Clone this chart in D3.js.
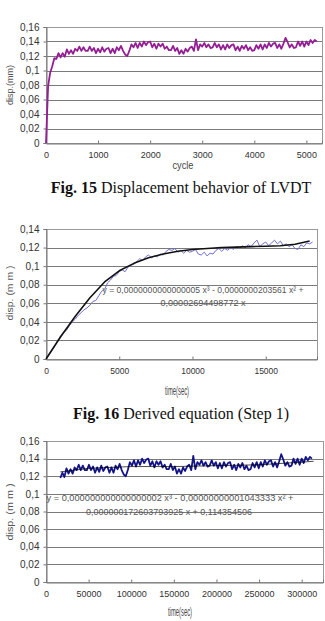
<!DOCTYPE html>
<html>
<head>
<meta charset="utf-8">
<script src="https://cdn.jsdelivr.net/npm/d3@7"></script>
<style>
	body { margin: 0; background: #fff; }
	svg { display: block; }
</style>
</head>
<body>
<svg id="page" width="325" height="621"></svg>
<script>
(function() {
	'use strict';

	// Fig. 15 - LVDT displacement, one value every 40 cycles
	var cycleStep = 40;
	var disp15 = [
		0, 0.078, 0.097, 0.106, 0.117, 0.116, 0.124, 0.118, 0.124, 0.119,
		0.129, 0.123, 0.128, 0.123, 0.130, 0.127, 0.133, 0.127, 0.132, 0.127,
		0.127, 0.133, 0.127, 0.131, 0.124, 0.130, 0.125, 0.132, 0.126, 0.130,
		0.131, 0.124, 0.130, 0.124, 0.132, 0.128, 0.134, 0.127, 0.122, 0.120,
		0.127, 0.136, 0.132, 0.138, 0.131, 0.138, 0.133, 0.140, 0.135, 0.139,
		0.140, 0.132, 0.137, 0.130, 0.137, 0.133, 0.137, 0.130, 0.133, 0.128,
		0.128, 0.134, 0.127, 0.131, 0.123, 0.128, 0.123, 0.130, 0.126, 0.131,
		0.133, 0.127, 0.143, 0.128, 0.136, 0.133, 0.138, 0.132, 0.136, 0.131,
		0.132, 0.138, 0.132, 0.136, 0.129, 0.135, 0.129, 0.136, 0.131, 0.135,
		0.136, 0.128, 0.133, 0.127, 0.134, 0.130, 0.135, 0.128, 0.132, 0.127,
		0.128, 0.135, 0.130, 0.136, 0.129, 0.136, 0.131, 0.138, 0.133, 0.137,
		0.138, 0.131, 0.136, 0.130, 0.137, 0.145, 0.139, 0.132, 0.136, 0.131,
		0.132, 0.140, 0.134, 0.140, 0.133, 0.140, 0.135, 0.142, 0.138, 0.142,
		0.140
	];
	// same record against time (60 sec per cycle), first cycles left out
	var secPerCycle = 60;
	var firstCycle3 = 280;

	// Fig. 16 - step 1, one value every 200 sec
	var timeStep16 = 200;
	var disp16 = [
		0, 0.004, 0.009, 0.014, 0.020, 0.025, 0.029, 0.031, 0.036, 0.040,
		0.043, 0.047, 0.050, 0.053, 0.055, 0.058, 0.062, 0.063, 0.068, 0.073,
		0.075, 0.082, 0.085, 0.089, 0.090, 0.094, 0.096, 0.094, 0.099, 0.101,
		0.102, 0.105, 0.108, 0.106, 0.110, 0.112, 0.109, 0.111, 0.110, 0.113,
		0.112, 0.116, 0.118, 0.117, 0.119, 0.115, 0.117, 0.114, 0.117, 0.115,
		0.116, 0.118, 0.113, 0.112, 0.115, 0.111, 0.114, 0.113, 0.117, 0.119,
		0.116, 0.119, 0.117, 0.120, 0.118, 0.121, 0.119, 0.122, 0.120, 0.123,
		0.121, 0.125, 0.128, 0.121, 0.124, 0.126, 0.122, 0.125, 0.128, 0.124,
		0.127, 0.122, 0.124, 0.121, 0.123, 0.119, 0.118, 0.123, 0.121, 0.125,
		0.124, 0.126
	];
	var fitTime16 = [0, 1000, 2000, 3000, 4000, 5000, 6000, 7000, 8000, 9000,
		10000, 11000, 12000, 13000, 14000, 15000, 16000, 17000, 18000];
	var fitDisp16 = [0, 0.024, 0.046, 0.066, 0.083, 0.095, 0.103, 0.109, 0.113, 0.116,
		0.118, 0.119, 0.120, 0.1205, 0.121, 0.1215, 0.122, 0.1235, 0.127];

	var fitTime3 = [16800, 50000, 100000, 150000, 200000, 250000, 300000, 314000];
	var fitDisp3 = [0.125, 0.129, 0.131, 0.131, 0.132, 0.133, 0.136, 0.137];

	var yTicks16 = [0, 0.02, 0.04, 0.06, 0.08, 0.1, 0.12, 0.14, 0.16];
	var yTicks14 = [0, 0.02, 0.04, 0.06, 0.08, 0.1, 0.12, 0.14];
	var xTicksCycle = [0, 1000, 2000, 3000, 4000, 5000];
	var xTicksTime16 = [0, 5000, 10000, 15000];
	var xTicksTime3 = [0, 50000, 100000, 150000, 200000, 250000, 300000];

	var svg = d3.select('#page');
	svg.append('rect').attr('width', 325).attr('height', 621).attr('fill', '#fff');

	function fmt(d) {
		return String(d).replace('.', ',');
	}

	function panel(cfg) {
		var x = d3.scaleLinear().domain(cfg.xDomain).range([cfg.left, cfg.right]);
		var y = d3.scaleLinear().domain(cfg.yDomain).range([cfg.bottom, cfg.top]);
		var g = svg.append('g');

		// grid
		g.selectAll('line.grid').data(cfg.yTicks.slice(1, -1)).enter().append('line')
			.attr('x1', cfg.left).attr('x2', cfg.right)
			.attr('y1', function(d) { return Math.round(y(d)) + 0.5; })
			.attr('y2', function(d) { return Math.round(y(d)) + 0.5; })
			.attr('stroke', '#7a7a7a').attr('stroke-width', 1);

		g.append('rect')
			.attr('x', cfg.left + 0.5).attr('y', Math.round(cfg.top) + 0.5)
			.attr('width', cfg.right - cfg.left).attr('height', Math.round(cfg.bottom) - Math.round(cfg.top))
			.attr('fill', 'none').attr('stroke', '#999');

		// axes
		var yAxis = d3.axisLeft(y).tickValues(cfg.yTicks).tickSize(3).tickPadding(4).tickFormat(fmt);
		var ya = g.append('g').attr('transform', 'translate(' + (cfg.left + 0.5) + ',0)').call(yAxis);
		var xAxis = d3.axisBottom(x).tickValues(cfg.xTicks).tickSize(-3).tickPadding(8).tickFormat(String);
		var xa = g.append('g').attr('transform', 'translate(0,' + (Math.round(cfg.bottom) + 0.5) + ')').call(xAxis);
		[ya, xa].forEach(function(a) {
			a.select('.domain').attr('stroke', '#777');
			a.selectAll('.tick line').attr('stroke', '#777');
			a.selectAll('text').attr('fill', '#333').attr('font-family', 'Liberation Sans, Arial, sans-serif');
		});
		ya.selectAll('text').attr('font-size', 10);
		xa.selectAll('text').attr('font-size', cfg.xFont);

		// series
		cfg.series.forEach(function(s) {
			g.append('path')
				.datum(s.data)
				.attr('fill', 'none')
				.attr('stroke', s.color)
				.attr('stroke-width', s.width)
				.attr('stroke-linejoin', 'round')
				.attr('d', d3.line().x(function(d) { return x(d[0]); }).y(function(d) { return y(d[1]); }));
		});

		// titles
		g.append('text')
			.attr('x', cfg.xTitle[0]).attr('y', cfg.xTitle[1])
			.attr('text-anchor', 'middle')
			.attr('font-family', 'Liberation Sans, Arial, sans-serif')
			.attr('font-size', cfg.xTitle[4]).attr('fill', '#444')
			.attr('textLength', cfg.xTitle[3]).attr('lengthAdjust', 'spacingAndGlyphs')
			.text(cfg.xTitle[2]);
		g.append('text')
			.attr('transform', 'translate(' + cfg.yTitle[0] + ',' + cfg.yTitle[1] + ') rotate(-90)')
			.attr('text-anchor', 'middle')
			.attr('font-family', 'Liberation Sans, Arial, sans-serif')
			.attr('font-size', 9).attr('fill', '#555')
			.attr('textLength', cfg.yTitle[3]).attr('lengthAdjust', 'spacingAndGlyphs')
			.text(cfg.yTitle[2]);

		(cfg.notes || []).forEach(function(n) {
			g.append('text')
				.attr('x', n.cx).attr('y', n.y)
				.attr('text-anchor', 'middle')
				.attr('font-family', 'Liberation Sans, Arial, sans-serif')
				.attr('font-size', 9).attr('fill', '#555')
				.attr('textLength', n.w).attr('lengthAdjust', 'spacingAndGlyphs')
				.text(n.t);
		});
	}

	function caption(num, txt, cx, yb) {
		var t = svg.append('text')
			.attr('x', cx).attr('y', yb)
			.attr('text-anchor', 'middle')
			.attr('font-family', 'Liberation Serif, Times New Roman, serif')
			.attr('font-size', 16).attr('fill', '#111');
		t.append('tspan').attr('font-weight', 'bold').text(num);
		t.append('tspan').text(' ' + txt);
	}

	var s15 = disp15.map(function(v, i) { return [i * cycleStep, v]; });
	var s3 = disp15.map(function(v, i) { return [i * cycleStep * secPerCycle, v]; })
		.filter(function(d, i) { return i * cycleStep >= firstCycle3; });
	var s16 = disp16.map(function(v, i) { return [i * timeStep16, v]; });
	var f16 = fitTime16.map(function(t, i) { return [t, fitDisp16[i]]; });
	var f3 = fitTime3.map(function(t, i) { return [t, fitDisp3[i]]; });

	panel({
		left: 46, right: 322, top: 27, bottom: 143,
		xDomain: [0, 5300], yDomain: [0, 0.16],
		xTicks: xTicksCycle, yTicks: yTicks16, xFont: 9,
		series: [{ data: s15, color: '#951e95', width: 1.8 }],
		xTitle: [183, 169, 'cycle', 21, 10],
		yTitle: [13, 85, 'disp.(mm)', 40]
	});
	caption('Fig. 15', 'Displacement behavior of LVDT', 181, 193);

	panel({
		left: 46, right: 317, top: 229, bottom: 359,
		xDomain: [0, 18500], yDomain: [0, 0.14],
		xTicks: xTicksTime16, yTicks: yTicks14, xFont: 8.5,
		series: [
			{ data: s16, color: '#6f6fd0', width: 1 },
			{ data: f16, color: '#111', width: 1.6 }
		],
		xTitle: [177, 395, 'time(sec)', 24, 12],
		yTitle: [13, 293, 'disp. (m m )', 55],
		notes: [
			{ cx: 203, y: 293, w: 201, t: 'y = 0,0000000000000005 x\u00b3 - 0,0000000203561 x\u00b2 +' },
			{ cx: 203, y: 306, w: 85, t: '0,00002694498772 x' }
		]
	});
	caption('Fig. 16', 'Derived equation (Step 1)', 181, 419);

	panel({
		left: 46, right: 323, top: 441, bottom: 582,
		xDomain: [0, 325000], yDomain: [0, 0.16],
		xTicks: xTicksTime3, yTicks: yTicks16, xFont: 9,
		series: [
			{ data: s3, color: '#14148a', width: 1.8 },
			{ data: f3, color: '#000', width: 0.7 }
		],
		xTitle: [180, 616, 'time(sec)', 24, 12],
		yTitle: [13, 512, 'disp. (m m )', 57],
		notes: [
			{ cx: 170, y: 501, w: 247, t: 'y = 0,000000000000000002 x\u00b3 - 0,00000000001043333 x\u00b2 +' },
			{ cx: 169, y: 515, w: 166, t: '0,000000172603793925 x + 0,114354506' }
		]
	});
})();
</script>
</body>
</html>
